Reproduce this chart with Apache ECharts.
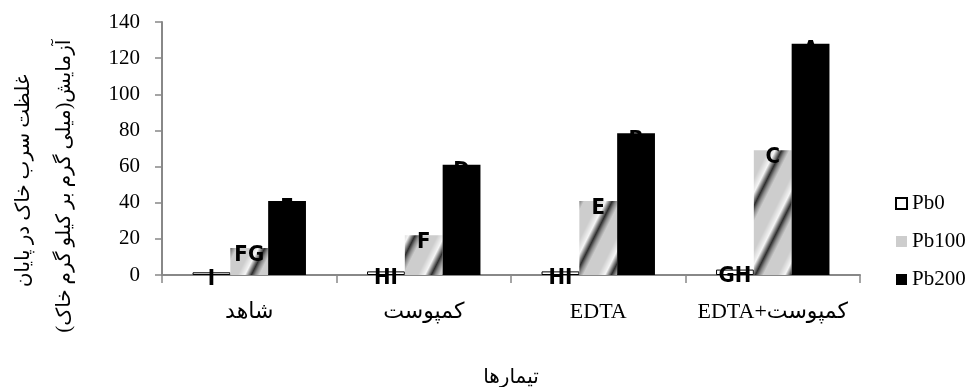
<!DOCTYPE html>
<html>
<head>
<meta charset="utf-8">
<script src="https://cdn.jsdelivr.net/npm/echarts@6/dist/echarts.min.js"></script>
<style>html,body{margin:0;padding:0;background:#fff;overflow:hidden;}#c{width:975px;height:387px;}</style>
</head>
<body>
<div id="c"></div>
<script>
const categories = ['شاهد', 'کمپوست', 'EDTA', 'EDTA+کمپوست'];
const seriesNames = ['Pb0', 'Pb100', 'Pb200'];
const pb0 = [1.5, 2, 2, 3];
const pb100 = [15, 22, 41, 69];
const pb200 = [41, 61, 78.5, 128];
const pb0Letters = ['I', 'HI', 'HI', 'GH'];
const pb100Letters = ['FG', 'F', 'E', 'C'];
const pb200Letters = ['E', 'D', 'B', 'A'];
const yMin = 0, yMax = 140, yInterval = 20;
const yTitleLine1 = 'غلظت سرب خاک در پایان';
const yTitleLine2 = 'آزمایش(میلی گرم بر کیلو گرم خاک)\u200F';
const xTitle = 'تیمارها';

function makePattern() {
  const w = 36, h = 72;
  const c = document.createElement('canvas');
  c.width = w; c.height = h;
  const ctx = c.getContext('2d');
  const img = ctx.createImageData(w, h);
  function f(t) {
    if (t < 0.4) return 205;
    if (t < 0.6) return 205 + (t - 0.4) / 0.2 * 40;
    if (t < 0.78) return 245 - (t - 0.6) / 0.18 * 200;
    if (t < 0.88) return 45 + (t - 0.78) / 0.1 * 90;
    return 135 + (t - 0.88) / 0.12 * 70;
  }
  for (let y = 0; y < h; y++) {
    for (let x = 0; x < w; x++) {
      const t = ((x + 0.5 * y) % 36) / 36;
      const v = Math.round(f(t));
      const i = (y * w + x) * 4;
      img.data[i] = v; img.data[i + 1] = v; img.data[i + 2] = v; img.data[i + 3] = 255;
    }
  }
  ctx.putImageData(img, 0, 0);
  return c;
}
const pattern = makePattern();

const letterLabel = (letters) => ({
  show: true,
  position: 'insideTop',
  distance: 0,
  offset: [0, -4],
  formatter: (p) => letters[p.dataIndex],
  color: '#000',
  fontFamily: "'Liberation Sans Narrow', 'DejaVu Sans Condensed', sans-serif",
  fontWeight: 'bold',
  fontSize: 22
});

const el = document.getElementById('c');
const chart = echarts.init(el, null, { renderer: 'canvas' });
const serif = "'Liberation Serif', 'DejaVu Serif', 'DejaVu Sans', serif";
const arabicFont = "20px 'Liberation Serif', 'DejaVu Sans'";
chart.setOption({
  animation: false,
  backgroundColor: '#fff',
  grid: { left: 162, right: 115, top: 22, bottom: 112, containLabel: false, outerBoundsMode: 'none' },
  legend: {
    orient: 'vertical',
    left: 890,
    top: 188,
    itemGap: 17,
    itemWidth: 11,
    itemHeight: 11,
    icon: 'rect',
    data: seriesNames,
    textStyle: { fontFamily: serif, fontSize: 21, color: '#000' }
  },
  xAxis: {
    type: 'category',
    data: categories,
    axisLine: { show: true, lineStyle: { color: '#888', width: 2 } },
    axisTick: { show: true, length: 8, lineStyle: { color: '#888', width: 1.5 } },
    axisLabel: { interval: 0, margin: 26, fontFamily: serif, fontSize: 22, color: '#000' },
    name: xTitle,
    nameLocation: 'middle',
    nameGap: 93,
    nameTextStyle: { fontFamily: serif, fontSize: 20, color: '#000' }
  },
  yAxis: {
    type: 'value',
    min: yMin, max: yMax, interval: yInterval,
    axisLine: { show: true, lineStyle: { color: '#888', width: 2 } },
    axisTick: { show: true, length: 7, lineStyle: { color: '#888', width: 1.5 } },
    axisLabel: { margin: 22, fontFamily: serif, fontSize: 21, color: '#000' },
    splitLine: { show: false }
  },
  graphic: [
    { type: 'text', x: 24, y: 181, rotation: Math.PI / 2,
      style: { text: yTitleLine1, font: arabicFont, fill: '#000', align: 'center', verticalAlign: 'middle' } },
    { type: 'text', x: 65, y: 186, rotation: Math.PI / 2,
      style: { text: yTitleLine2, font: arabicFont, fill: '#000', align: 'center', verticalAlign: 'middle' } }
  ],
  series: [
    { name: seriesNames[0], type: 'bar', data: pb0, barGap: '0%', barCategoryGap: '35%',
      itemStyle: { color: '#fff', borderColor: '#000', borderWidth: 1 },
      label: letterLabel(pb0Letters) },
    { name: seriesNames[1], type: 'bar', data: pb100, barGap: '0%', barCategoryGap: '35%',
      itemStyle: { color: { image: pattern, repeat: 'repeat' } },
      label: letterLabel(pb100Letters) },
    { name: seriesNames[2], type: 'bar', data: pb200, barGap: '0%', barCategoryGap: '35%',
      itemStyle: { color: '#000' },
      label: letterLabel(pb200Letters) }
  ]
});
</script>
</body>
</html>
